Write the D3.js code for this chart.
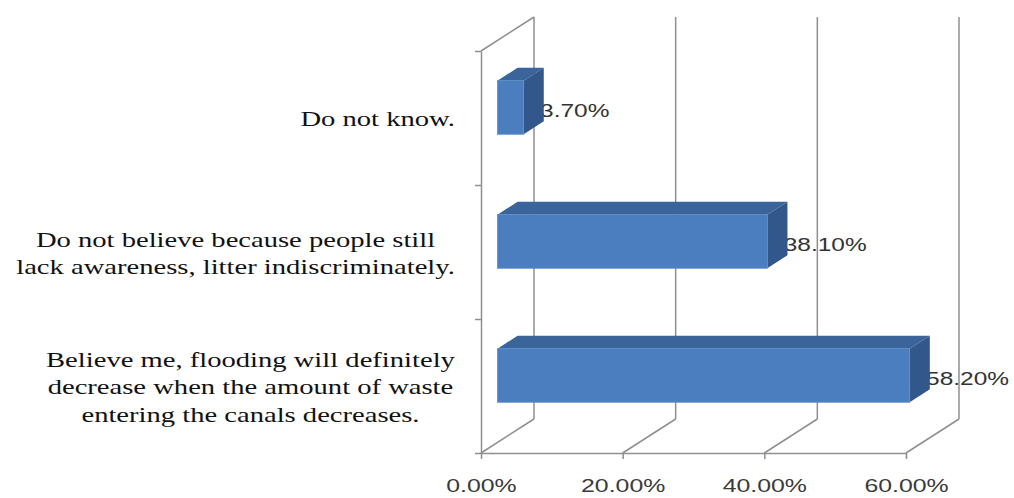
<!DOCTYPE html>
<html>
<head>
<meta charset="utf-8">
<script src="https://cdn.jsdelivr.net/npm/d3@7"></script>
<style>
  html, body { margin: 0; padding: 0; background: #fff; }
  svg { display: block; }
</style>
</head>
<body>
<svg id="chart" width="1014" height="498"></svg>
<script>
// Survey answers, top to bottom
const categories = [
  "Do not know.",
  "Do not believe because people still lack awareness, litter indiscriminately.",
  "Believe me, flooding will definitely decrease when the amount of waste entering the canals decreases."
];
// Line breaks used for each category label
const categoryLines = [
  ["Do not know."],
  ["Do not believe because people still", "lack awareness, litter indiscriminately."],
  ["Believe me, flooding will definitely", "decrease when the amount of waste", "entering the canals decreases."]
];
const shares = [0.037, 0.381, 0.582];
const tickValues = [0, 0.2, 0.4, 0.6];
const tickFormat = d3.format(".2%");

const svg = d3.select("#chart");

// Front plane of the 3-D box
const x = d3.scaleLinear().domain([0, 0.6]).range([481, 906]);
const slot = d3.scaleLinear().domain([0, categories.length]).range([51, 453]);
const band = d3.scaleBand().domain(categories).range([51, 453])
  .paddingInner(0.6).paddingOuter(0.3);
const rowCenter = d3.scaleBand().domain(categories).range([51, 453]).padding(0);

// Depth vector from the front plane to the back wall
const DX = 53, DY = -34;
const barFront = 0.31, barBack = 0.69;   // bar position within the depth

const gridColor = "#8f8f8f";
const grid = svg.append("g").attr("stroke", gridColor).attr("stroke-width", 1.5).attr("fill", "none");

// Back wall vertical gridlines
grid.selectAll("line.wall").data(tickValues).join("line")
  .attr("class", "wall")
  .attr("x1", d => x(d) + DX).attr("x2", d => x(d) + DX)
  .attr("y1", slot(0) + DY).attr("y2", slot(categories.length) + DY);
// Floor diagonals
grid.selectAll("line.floor").data(tickValues).join("line")
  .attr("class", "floor")
  .attr("x1", d => x(d)).attr("x2", d => x(d) + DX)
  .attr("y1", slot(categories.length)).attr("y2", slot(categories.length) + DY);
// Top edge of the side wall
grid.append("line")
  .attr("x1", x(0)).attr("y1", slot(0))
  .attr("x2", x(0) + DX).attr("y2", slot(0) + DY);

// Bottom value axis
const xAxis = svg.append("g")
  .attr("transform", `translate(0,${slot(categories.length)})`)
  .call(d3.axisBottom(x).tickValues(tickValues).tickFormat(tickFormat).tickSize(6).tickSizeOuter(0));
xAxis.select(".domain").attr("stroke", gridColor).attr("stroke-width", 1.5);
xAxis.selectAll(".tick line").attr("stroke", gridColor).attr("stroke-width", 1.5);
xAxis.selectAll(".tick text")
  .attr("y", 26)
  .attr("dy", "0.71em")
  .attr("transform", "scale(1.38,1)")
  .attr("font-family", "'Liberation Sans', Arial, sans-serif")
  .attr("font-size", 18)
  .attr("fill", "#3a3a3a");

// Left category axis (ticks at row boundaries)
const yAxis = svg.append("g")
  .attr("transform", `translate(${x(0)},0)`)
  .call(d3.axisLeft(slot).tickValues(d3.range(categories.length + 1)).tickFormat("").tickSize(6).tickSizeOuter(0));
yAxis.select(".domain").attr("stroke", gridColor).attr("stroke-width", 1.5);
yAxis.selectAll(".tick line").attr("stroke", gridColor).attr("stroke-width", 1.5);

// Category labels: centred lines, block right-aligned against the axis
const labelRight = 455, lineH = 27.5, serifScale = 1.3;
const catG = svg.append("g")
  .attr("font-family", "'Liberation Serif', 'Times New Roman', serif")
  .attr("font-size", 22)
  .attr("fill", "#111");
categories.forEach((c, i) => {
  const lines = categoryLines[i];
  const g = catG.append("g");
  const cy = rowCenter(c) + rowCenter.bandwidth() / 2;
  const texts = lines.map((ln, j) => g.append("text")
    .attr("text-anchor", "middle")
    .attr("x", 0)
    .attr("y", cy + (j - (lines.length - 1) / 2) * lineH + 8.5)
    .text(ln));
  const maxW = d3.max(texts, t => t.node().getComputedTextLength()) * serifScale;
  g.attr("transform", `translate(${labelRight - maxW / 2},0) scale(${serifScale},1)`);
});

// Value labels (drawn before the bars, which partly cover them)
const valG = svg.append("g")
  .attr("font-family", "'Liberation Sans', Arial, sans-serif")
  .attr("font-size", 18)
  .attr("fill", "#333");
categories.forEach((c, i) => {
  const lx = x(shares[i]) + 0.62 * DX;
  const ly = rowCenter(c) + rowCenter.bandwidth() / 2 - 1.5;
  valG.append("text")
    .attr("transform", `translate(${lx},${ly}) scale(1.36,1)`)
    .text(tickFormat(shares[i]));
});

// 3-D bars
const frontColor = "#4a7ebf", topColor = "#3b659a", sideColor = "#32578b";
const bars = svg.append("g");
categories.forEach((c, i) => {
  const x0 = x(0), x1 = x(shares[i]);
  const y0 = band(c), y1 = band(c) + band.bandwidth();
  const fx = barFront * DX, fy = barFront * DY;
  const bx = barBack * DX, by = barBack * DY;
  const pts = a => a.map(p => p.join(",")).join(" ");
  const g = bars.append("g");
  // top face
  g.append("polygon").attr("fill", topColor)
    .attr("points", pts([[x0 + fx, y0 + fy], [x1 + fx, y0 + fy], [x1 + bx, y0 + by], [x0 + bx, y0 + by]]));
  // side face
  g.append("polygon").attr("fill", sideColor)
    .attr("points", pts([[x1 + fx, y0 + fy], [x1 + bx, y0 + by], [x1 + bx, y1 + by], [x1 + fx, y1 + fy]]));
  // front face
  g.append("rect").attr("fill", frontColor)
    .attr("stroke", "#5d8fcc").attr("stroke-width", 0.8)
    .attr("x", x0 + fx).attr("y", y0 + fy)
    .attr("width", x1 - x0).attr("height", y1 - y0);
});
</script>
</body>
</html>
